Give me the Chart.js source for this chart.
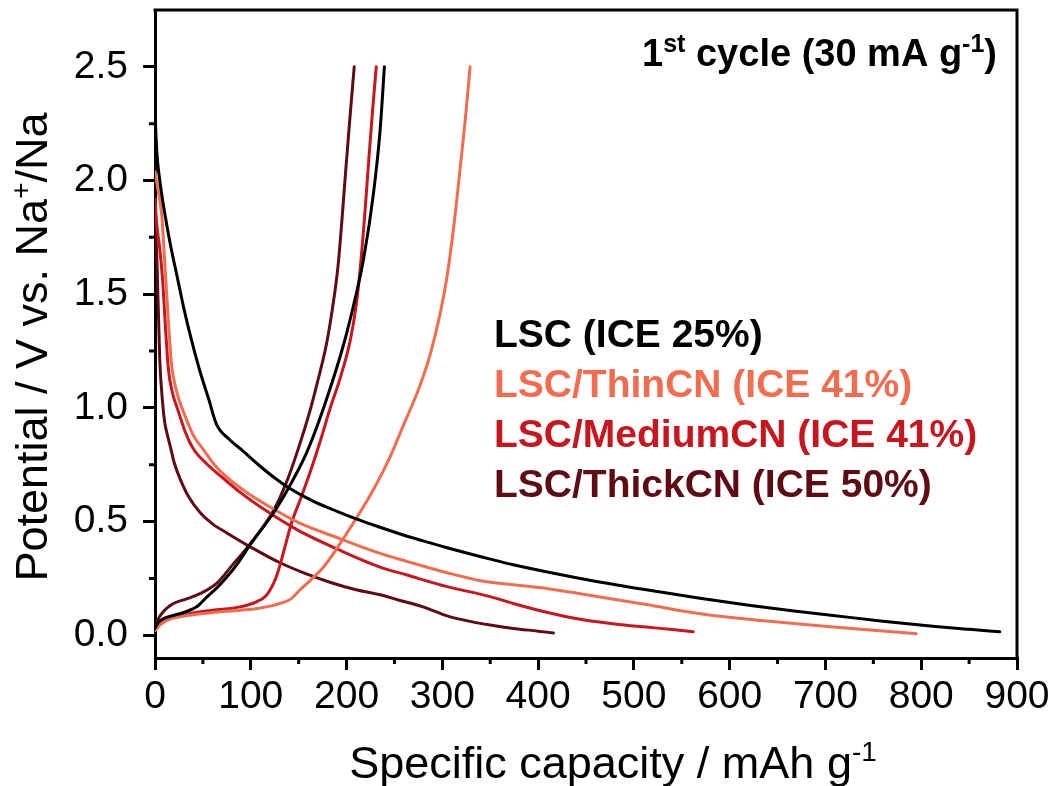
<!DOCTYPE html>
<html>
<head>
<meta charset="utf-8">
<script src="https://cdn.jsdelivr.net/npm/chart.js@4.4.1/dist/chart.umd.min.js"></script>
<style>
  html, body { margin: 0; padding: 0; background: #ffffff; }
  #wrap { width: 1059px; height: 786px; }
</style>
</head>
<body>
<div id="wrap"><canvas id="chart" width="1059" height="786"></canvas></div>
<script>
// Galvanostatic first cycle, potential (V vs. Na+/Na) against specific capacity (mAh/g)

const seriesNames = ['LSC (ICE 25%)', 'LSC/ThinCN (ICE 41%)', 'LSC/MediumCN (ICE 41%)', 'LSC/ThickCN (ICE 50%)'];
const seriesColors = ['#000000', '#F26C4F', '#C8161E', '#5E0B14'];

const xTicks = [0, 100, 200, 300, 400, 500, 600, 700, 800, 900];
const yTicks = [0.0, 0.5, 1.0, 1.5, 2.0, 2.5];

// LSC
const lscDisCap = [0, 2, 5, 10, 16, 24, 30, 38, 47, 56, 64, 78, 92, 108, 124, 140, 165, 190, 210, 235, 260, 280, 305, 350, 374, 444, 513, 569, 620, 665, 708, 760, 812, 850, 882];
const lscDisV   = [2.3, 2.12, 2.0, 1.86, 1.72, 1.56, 1.44, 1.3, 1.16, 1.04, 0.93, 0.86, 0.81, 0.75, 0.695, 0.648, 0.59, 0.545, 0.512, 0.475, 0.44, 0.415, 0.385, 0.335, 0.31, 0.25, 0.2, 0.163, 0.132, 0.108, 0.087, 0.062, 0.04, 0.026, 0.015];
const lscChgCap = [0, 3, 10, 20, 30, 45, 54, 65, 75, 87, 99, 111, 124, 141, 158, 176, 197, 210, 218, 228, 235, 239.5];
const lscChgV   = [0.03, 0.055, 0.075, 0.088, 0.1, 0.13, 0.168, 0.21, 0.256, 0.32, 0.396, 0.465, 0.54, 0.66, 0.8, 1.0, 1.28, 1.5, 1.66, 1.94, 2.22, 2.5];

// LSC/ThinCN
const thinDisCap = [0, 3, 7, 11, 14, 17, 22, 30, 40, 50, 62, 75, 95, 117, 150, 193, 235, 263, 305, 340, 374, 410, 444, 513, 569, 620, 673, 740, 795];
const thinDisV   = [2.04, 1.96, 1.85, 1.58, 1.38, 1.2, 1.08, 0.98, 0.88, 0.82, 0.75, 0.695, 0.63, 0.572, 0.495, 0.425, 0.36, 0.325, 0.275, 0.24, 0.222, 0.205, 0.183, 0.135, 0.095, 0.07, 0.05, 0.025, 0.007];
const thinChgCap = [0, 5, 15, 36, 60, 89, 110, 130, 142, 151, 163, 176, 200, 228, 245, 259, 275, 287, 298, 305, 312, 318, 324, 329];
const thinChgV   = [0.02, 0.045, 0.07, 0.088, 0.1, 0.11, 0.12, 0.139, 0.16, 0.198, 0.245, 0.3, 0.447, 0.64, 0.78, 0.92, 1.08, 1.23, 1.42, 1.58, 1.8, 2.03, 2.27, 2.5];

// LSC/MediumCN
const medDisCap = [0, 2, 5, 8, 11, 14, 18, 24, 32, 40, 55, 70, 90, 117, 150, 193, 235, 263, 304, 350, 374, 410, 444, 480, 513, 540, 562];
const medDisV   = [1.92, 1.8, 1.7, 1.56, 1.35, 1.17, 1.07, 0.99, 0.89, 0.82, 0.75, 0.695, 0.625, 0.545, 0.46, 0.374, 0.3, 0.265, 0.215, 0.17, 0.14, 0.1, 0.07, 0.05, 0.036, 0.025, 0.015];
const medChgCap = [0, 5, 15, 36, 60, 89, 106, 115, 120, 126, 131, 137, 143, 152, 163, 173, 183, 194, 204, 210, 214, 219, 223, 227, 231];
const medChgV   = [0.025, 0.05, 0.075, 0.095, 0.11, 0.125, 0.147, 0.17, 0.198, 0.25, 0.315, 0.41, 0.5, 0.6, 0.73, 0.86, 1.0, 1.14, 1.3, 1.45, 1.6, 1.85, 2.08, 2.3, 2.5];

// LSC/ThickCN
const thickDisCap = [0, 2, 5, 8, 10, 13, 16, 20, 26, 35, 47, 60, 75, 99, 130, 158, 185, 210, 235, 255, 280, 305, 330, 350, 374, 400, 416];
const thickDisV   = [1.85, 1.65, 1.21, 1.02, 0.94, 0.88, 0.83, 0.76, 0.69, 0.61, 0.54, 0.49, 0.45, 0.39, 0.32, 0.27, 0.23, 0.2, 0.178, 0.154, 0.125, 0.085, 0.06, 0.045, 0.03, 0.018, 0.01];
const thickChgCap = [0, 3, 10, 19, 33, 47, 64, 82, 99, 124, 137, 148, 162, 170, 179, 185, 191, 200, 204, 208];
const thickChgV   = [0.035, 0.07, 0.11, 0.139, 0.16, 0.183, 0.227, 0.315, 0.4, 0.55, 0.67, 0.8, 0.99, 1.12, 1.28, 1.43, 1.62, 2.09, 2.3, 2.5];

const curves = [
  [lscDisCap, lscDisV, lscChgCap, lscChgV],
  [thinDisCap, thinDisV, thinChgCap, thinChgV],
  [medDisCap, medDisV, medChgCap, medChgV],
  [thickDisCap, thickDisV, thickChgCap, thickChgV]
];

const FONT = '"Liberation Sans", Arial, Helvetica, sans-serif';

function toPoints(xs, ys) {
  return xs.map((x, i) => ({ x: x, y: ys[i] }));
}

const datasets = [];
curves.forEach((c, i) => {
  const common = {
    showLine: true,
    borderColor: seriesColors[i],
    backgroundColor: seriesColors[i],
    borderWidth: 3,
    pointRadius: 0,
    fill: false,
    cubicInterpolationMode: 'monotone',
    borderCapStyle: 'round',
    borderJoinStyle: 'round'
  };
  datasets.push(Object.assign({ label: seriesNames[i] + ' discharge', data: toPoints(c[0], c[1]) }, common));
  datasets.push(Object.assign({ label: seriesNames[i] + ' charge', data: toPoints(c[2], c[3]) }, common));
});

// Text with superscript pieces
function drawRich(ctx, parts, x, y, size, weight, color, align, supScale) {
  const ss = supScale || 0.62;
  const fontFor = p => `${weight} ${p.sup ? Math.round(size * ss) : size}px ${FONT}`;
  let total = 0;
  parts.forEach(p => { ctx.font = fontFor(p); p.w = ctx.measureText(p.t).width; total += p.w; });
  let cx = align === 'center' ? x - total / 2 : (align === 'right' ? x - total : x);
  ctx.textAlign = 'left';
  ctx.textBaseline = 'alphabetic';
  ctx.fillStyle = color;
  parts.forEach(p => {
    ctx.font = fontFor(p);
    ctx.fillText(p.t, cx, p.sup ? y - size * 0.38 : y);
    cx += p.w;
  });
}

const decorations = {
  id: 'decorations',
  afterDraw(chart) {
    const ctx = chart.ctx;
    const a = chart.chartArea;
    const xs = chart.scales.x, ys = chart.scales.y;
    ctx.save();
    // frame on top and right
    ctx.strokeStyle = '#000';
    ctx.lineWidth = 3;
    ctx.lineCap = 'square';
    ctx.beginPath();
    ctx.moveTo(a.left, a.top);
    ctx.lineTo(a.right, a.top);
    ctx.lineTo(a.right, a.bottom);
    ctx.stroke();
    // minor ticks halfway between labelled ticks
    ctx.lineCap = 'butt';
    ctx.beginPath();
    for (let i = 0; i < xTicks.length - 1; i++) {
      const px = xs.getPixelForValue((xTicks[i] + xTicks[i + 1]) / 2);
      ctx.moveTo(px, a.bottom);
      ctx.lineTo(px, a.bottom + 6);
    }
    for (let i = 0; i < yTicks.length - 1; i++) {
      const py = ys.getPixelForValue((yTicks[i] + yTicks[i + 1]) / 2);
      ctx.moveTo(a.left, py);
      ctx.lineTo(a.left - 6, py);
    }
    ctx.stroke();

    // axis titles
    drawRich(ctx, [{ t: 'Specific capacity / mAh g' }, { t: '-1', sup: true }],
      (a.left + a.right) / 2 + 27, 778, 45, 'normal', '#000', 'center');
    ctx.save();
    ctx.translate(47, (a.top + a.bottom) / 2 + 13);
    ctx.rotate(-Math.PI / 2);
    drawRich(ctx, [{ t: 'Potential / V vs. Na' }, { t: '+', sup: true }, { t: '/Na' }],
      0, 0, 45, 'normal', '#000', 'center');
    ctx.restore();

    // cycle note
    drawRich(ctx, [{ t: '1' }, { t: 'st', sup: true }, { t: ' cycle (30 mA g' }, { t: '-1', sup: true }, { t: ')' }],
      a.right - 20, 66, 38, 'bold', '#000', 'right', 0.66);

    // series key
    seriesNames.forEach((name, i) => {
      drawRich(ctx, [{ t: name }], 494, 347 + i * 50, 39, 'bold', seriesColors[i], 'left');
    });
    ctx.restore();
  }
};

const axisCommon = {
  type: 'linear',
  grid: {
    display: true,
    drawOnChartArea: false,
    drawTicks: true,
    tickLength: 12,
    tickWidth: 3,
    tickColor: '#000',
    lineWidth: 3,
    color: '#000'
  },
  border: { display: true, width: 3, color: '#000' }
};

new Chart(document.getElementById('chart'), {
  type: 'scatter',
  data: { datasets: datasets },
  options: {
    responsive: false,
    animation: false,
    devicePixelRatio: 1,
    layout: { padding: { left: 0, right: 42, top: 10, bottom: 0 } },
    plugins: { legend: { display: false }, tooltip: { enabled: false } },
    scales: {
      x: Object.assign({}, axisCommon, {
        min: 0,
        max: 900,
        afterBuildTicks: s => { s.ticks = xTicks.map(v => ({ value: v })); },
        afterFit: s => { s.height = 128; s.paddingLeft = 0; s.paddingRight = 0; },
        ticks: {
          font: { family: FONT, size: 39 },
          color: '#000',
          padding: 4,
          maxRotation: 0,
          autoSkip: false,
          callback: v => String(v)
        }
      }),
      y: Object.assign({}, axisCommon, {
        min: -0.1,
        max: 2.75,
        afterBuildTicks: s => { s.ticks = yTicks.map(v => ({ value: v })); },
        afterFit: s => { s.width = 155; s.paddingTop = 0; s.paddingBottom = 0; },
        ticks: {
          font: { family: FONT, size: 39 },
          color: '#000',
          padding: 15,
          autoSkip: false,
          callback: v => Number(v).toFixed(1)
        }
      })
    }
  },
  plugins: [decorations]
});
</script>
</body>
</html>
